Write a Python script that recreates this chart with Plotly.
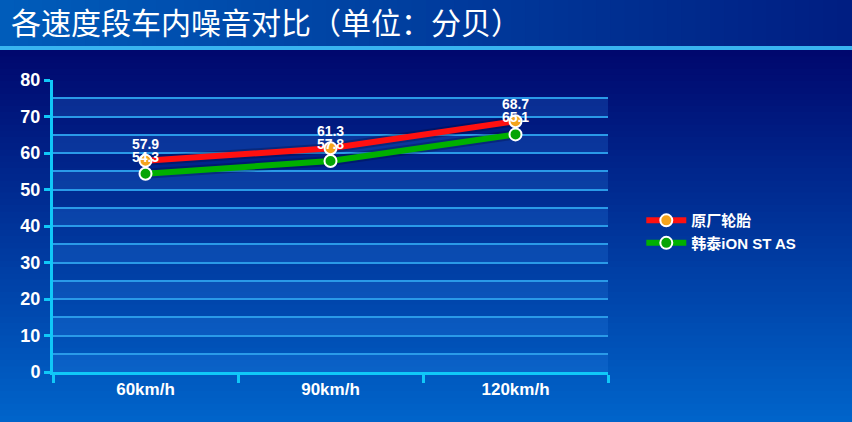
import plotly.graph_objects as go

# Noise level per speed band (dB)
speeds = ["60km/h", "90km/h", "120km/h"]
oem_tyre = [57.9, 61.3, 68.7]
hankook = [54.3, 57.8, 65.1]
y_ticks = [0, 10, 20, 30, 40, 50, 60, 70, 80]

W, H = 852, 422
L, R, T, B = 53, 244, 80, 50
pw, ph = W - L - R, H - T - B


def lerp(c1, c2, t):
    return "rgb(%d,%d,%d)" % tuple(round(a + (b - a) * t) for a, b in zip(c1, c2))


shapes = []

# page background: vertical gradient, drawn as thin strips (paper coords)
n = 60
top_px, bot_px = 50, H
for i in range(n):
    p0 = top_px + (bot_px - top_px) * i / n
    p1 = top_px + (bot_px - top_px) * (i + 1) / n + 1
    shapes.append(dict(
        type="rect", xref="paper", yref="paper", layer="below",
        x0=-L / pw, x1=1 + R / pw,
        y0=(H - B - p1) / ph, y1=(H - B - p0) / ph,
        fillcolor=lerp((0, 8, 110), (0, 100, 202), i / (n - 1)),
        line=dict(width=0),
    ))

# title bar: horizontal gradient
for i in range(n):
    x0 = -L / pw + (W / pw) * i / n
    x1 = -L / pw + (W / pw) * (i + 1) / n + 0.002
    shapes.append(dict(
        type="rect", xref="paper", yref="paper", layer="below",
        x0=x0, x1=x1, y0=(H - B - 47) / ph, y1=1 + T / ph,
        fillcolor=lerp((0, 92, 186), (0, 30, 130), i / (n - 1)),
        line=dict(width=0),
    ))
shapes.append(dict(
    type="rect", xref="paper", yref="paper", layer="below",
    x0=-L / pw, x1=1 + R / pw, y0=(H - B - 50) / ph, y1=(H - B - 46) / ph,
    fillcolor="#38b4f0", line=dict(width=0),
))

# alternating lighter bands in the plot area
for v in y_ticks[:-1]:
    shapes.append(dict(
        type="rect", xref="paper", yref="y", layer="below",
        x0=0, x1=1, y0=v, y1=v + 5,
        fillcolor="rgba(40,130,230,0.24)", line=dict(width=0),
    ))

fig = go.Figure()

# soft shadows under the lines
for vals in (oem_tyre, hankook):
    fig.add_trace(go.Scatter(
        x=speeds, y=vals, mode="lines",
        line=dict(color="rgba(0,0,30,0.25)", width=10),
        hoverinfo="skip", showlegend=False,
    ))

label_font = dict(color="white", size=14, family="Liberation Sans, Arial", weight="bold")

fig.add_trace(go.Scatter(
    x=speeds, y=oem_tyre, name="原厂轮胎",
    mode="lines+markers+text",
    line=dict(color="#ff1010", width=6),
    marker=dict(size=12, color="#f4a41c", line=dict(color="white", width=2)),
    text=[f"{v}" for v in oem_tyre], textposition="top center",
    textfont=label_font,
))
fig.add_trace(go.Scatter(
    x=speeds, y=hankook, name="韩泰iON ST AS",
    mode="lines+markers+text",
    line=dict(color="#00b000", width=6),
    marker=dict(size=12, color="#06a406", line=dict(color="white", width=2)),
    text=[f"{v}" for v in hankook], textposition="top center",
    textfont=label_font,
))

fig.update_layout(
    width=W, height=H,
    margin=dict(l=L, r=R, t=T, b=B),
    paper_bgcolor="#000a6e",
    plot_bgcolor="rgba(0,0,0,0)",
    shapes=shapes,
    font=dict(family="Liberation Sans, Arial", color="white"),
    title=dict(
        text="各速度段车内噪音对比（单位：分贝）",
        x=11 / W, xanchor="left", y=1 - 23 / H, yanchor="middle",
        font=dict(family="Noto Sans CJK SC", size=30, color="white"),
    ),
    showlegend=True,
    legend=dict(
        x=1.06, y=0.575, xanchor="left", yanchor="top",
        bgcolor="rgba(0,0,0,0)",
        font=dict(size=15, color="white", family="Liberation Sans, Noto Sans CJK SC",
                  weight="bold"),
        itemwidth=40, tracegroupgap=2,
    ),
    xaxis=dict(
        type="category",
        tickson="boundaries", ticks="outside", ticklen=8, tickwidth=3,
        tickcolor="#10c8f8",
        showline=True, linecolor="#10c8f8", linewidth=3,
        showgrid=False, zeroline=False,
        tickfont=dict(size=17, color="white", family="Liberation Sans, Arial",
                      weight="bold"),
        range=[-0.5, 2.5],
    ),
    yaxis=dict(
        range=[0, 80], tickvals=y_ticks,
        ticks="outside", ticklen=6, tickwidth=3, tickcolor="#10c8f8",
        showline=True, linecolor="#10c8f8", linewidth=3,
        showgrid=True, gridcolor="#2a9ae8", gridwidth=1.5,
        zeroline=False,
        minor=dict(dtick=5, showgrid=True, gridcolor="#2a9ae8", gridwidth=1.5),
        tickfont=dict(size=18, color="white", family="Liberation Sans, Arial",
                      weight="bold"),
    ),
)

fig.write_html("out.html", config={"displayModeBar": False},
               post_script="document.body.style.margin='0';")
